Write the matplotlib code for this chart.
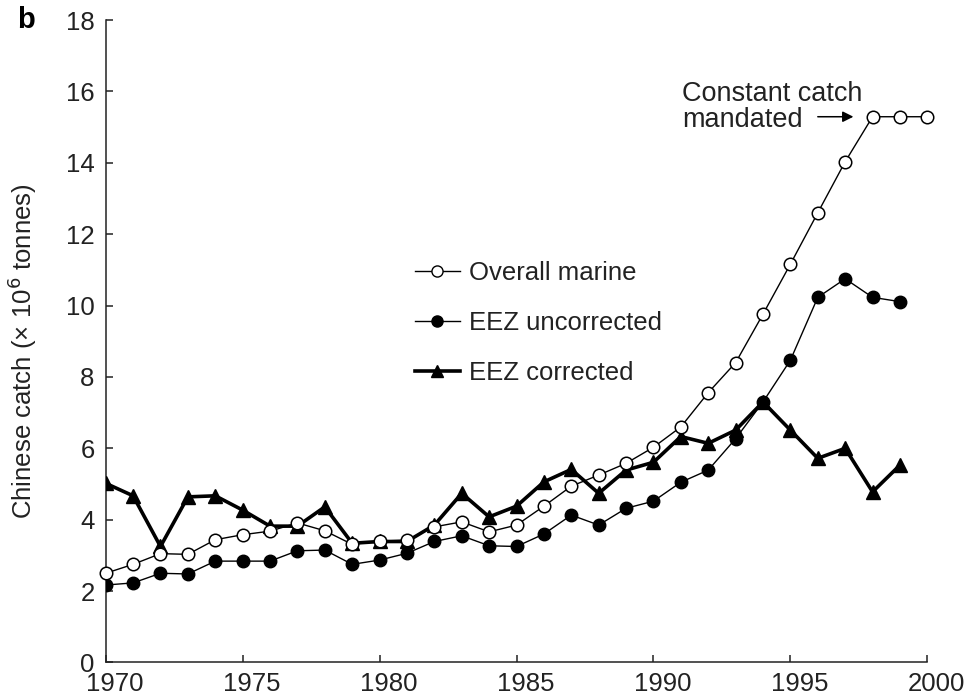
import matplotlib
matplotlib.use("Agg")
import matplotlib.pyplot as plt
import matplotlib.transforms as mtransforms
from matplotlib.lines import Line2D

plt.rcParams['font.family'] = ['Liberation Sans', 'DejaVu Sans']

years_overall = list(range(1970, 2001))
overall_marine = [2.50, 2.75, 3.05, 3.03, 3.44, 3.58, 3.68, 3.91, 3.69, 3.31,
                  3.40, 3.43, 3.80, 3.94, 3.66, 3.85, 4.38, 4.94, 5.25, 5.58,
                  6.03, 6.60, 7.56, 8.40, 9.76, 11.16, 12.60, 14.03, 15.29, 15.29,
                  15.29]
years_eez = list(range(1970, 2000))
eez_uncorrected = [2.17, 2.23, 2.50, 2.48, 2.84, 2.84, 2.84, 3.13, 3.15, 2.75,
                   2.87, 3.06, 3.39, 3.55, 3.27, 3.25, 3.60, 4.13, 3.85, 4.32,
                   4.52, 5.05, 5.39, 6.27, 7.30, 8.47, 10.23, 10.75, 10.23, 10.11]
eez_corrected = [5.02, 4.67, 3.25, 4.64, 4.67, 4.27, 3.82, 3.82, 4.36, 3.34,
                 3.39, 3.39, 3.85, 4.74, 4.08, 4.38, 5.06, 5.41, 4.74, 5.39,
                 5.61, 6.33, 6.14, 6.51, 7.30, 6.51, 5.72, 6.00, 4.78, 5.53]

x_ticks = [1970, 1975, 1980, 1985, 1990, 1995, 2000]
y_ticks = [0, 2, 4, 6, 8, 10, 12, 14, 16, 18]

FS = 18.5

fig = plt.figure(figsize=(9.68, 6.97), dpi=100)
ax = fig.add_axes([0.1092, 0.0495, 0.8488, 0.9218])

ax.plot(years_eez, eez_corrected, color='black', lw=2.6, marker='^', ms=10,
        mfc='black', mec='black', label='EEZ corrected', zorder=3)
ax.plot(years_eez, eez_uncorrected, color='black', lw=1.0, marker='o', ms=9,
        mfc='black', mec='black', label='EEZ uncorrected', zorder=4)
ax.plot(years_overall, overall_marine, color='black', lw=1.0, marker='o', ms=9,
        mfc='white', mec='black', mew=1.1, label='Overall marine', zorder=5,
        clip_on=False)

ax.set_xlim(1970, 2000)
ax.set_ylim(0, 18)
ax.set_xticks(x_ticks)
ax.set_yticks(y_ticks)
ax.tick_params(direction='in', length=5, width=1.1, labelsize=FS,
               colors='#222222')
ax.tick_params(axis='x', pad=6.5)
ax.tick_params(axis='y', pad=8)
offset = mtransforms.ScaledTranslation(9 / 100, 0, fig.dpi_scale_trans)
for lab in ax.get_xticklabels():
    lab.set_transform(lab.get_transform() + offset)
for s in ['top', 'right']:
    ax.spines[s].set_visible(False)
for s in ['left', 'bottom']:
    ax.spines[s].set_linewidth(1.1)
    ax.spines[s].set_color('#222222')

ax.set_ylabel('Chinese catch (× 10$^{6}$ tonnes)', fontsize=FS,
              color='#222222')
ax.yaxis.set_label_coords(-0.081, 0.485)

handles = [
    Line2D([], [], color='black', lw=1.0, marker='o', ms=8, mfc='white', mec='black'),
    Line2D([], [], color='black', lw=1.0, marker='o', ms=8, mfc='black', mec='black'),
    Line2D([], [], color='black', lw=2.6, marker='^', ms=9, mfc='black', mec='black'),
]
labels = ['Overall marine', 'EEZ uncorrected', 'EEZ corrected']
leg = ax.legend(handles, labels, loc='center left',
                bbox_to_anchor=(415 / 968, 1 - 323 / 697),
                bbox_transform=fig.transFigure,
                frameon=False, fontsize=FS, handlelength=1.75,
                handletextpad=0.35, labelspacing=1.02, borderaxespad=0,
                borderpad=0)
for t in leg.get_texts():
    t.set_color('#222222')

ax.text(1991.04, 15.56, 'Constant catch\nmandated', fontsize=19.5, ha='left',
        va='center', linespacing=1.0, color='#222222')
ax.annotate('', xy=(1997.3, 15.29), xytext=(1996.0, 15.29),
            arrowprops=dict(arrowstyle='-|>', color='black', lw=1.1,
                            shrinkA=0, shrinkB=0, mutation_scale=16))

fig.text(0.018, 1 - 20 / 697, 'b', fontsize=21, fontweight='bold',
         ha='left', va='center')

fig.savefig('out.png', dpi=100)
